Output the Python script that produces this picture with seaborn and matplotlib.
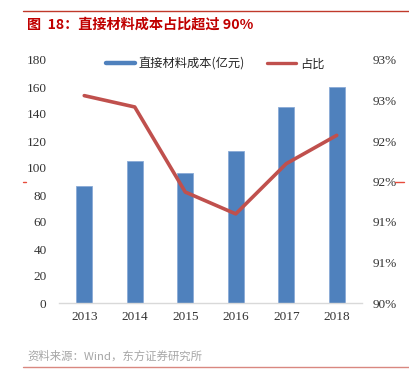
import matplotlib
matplotlib.use('Agg')
import matplotlib.pyplot as plt
from matplotlib.lines import Line2D
from matplotlib.ticker import FuncFormatter
import numpy as np
import seaborn as sns

years = ['2013', '2014', '2015', '2016', '2017', '2018']
cost = [87, 105, 96.5, 112.5, 145, 160]            # 直接材料成本(亿元)
ratio = [92.56, 92.42, 91.37, 91.10, 91.72, 92.07]  # 占比 (%)

bar_color = '#4F81BD'
line_color = '#C0504D'
red = '#C00000'

sns.set_theme(style='white')
plt.rcParams['font.family'] = ['Noto Sans CJK SC', 'DejaVu Sans']
serif = ['Liberation Serif', 'Noto Sans CJK SC']

W, H = 409, 379
fig = plt.figure(figsize=(W / 100, H / 100), dpi=100)
ax = fig.add_axes([59 / W, 76 / H, (362 - 59) / W, (303 - 60) / H])

sns.barplot(x=years, y=cost, color=bar_color, saturation=1, width=0.32,
            edgecolor='#8AAAD6', linewidth=0.6, ax=ax)
ax.set_ylim(0, 180)
ax.set_yticks(range(0, 181, 20))
ax.set_xlim(-0.5, 5.5)
ax.set_xlabel('')
ax.set_ylabel('')

ax2 = ax.twinx()
sns.lineplot(x=np.arange(len(years)), y=ratio, color=line_color, lw=2.6, ax=ax2)
ax2.set_ylim(90, 93)
ax2.set_yticks(np.arange(90, 93.01, 0.5))
ax2.yaxis.set_major_formatter(FuncFormatter(lambda v, p: '{}%'.format(int(np.floor(v + 0.5 + 1e-9)))))
ax2.set_xlim(-0.5, 5.5)

for a in (ax, ax2):
    for s in a.spines.values():
        s.set_visible(False)
    a.tick_params(length=0, labelsize=9.5, colors='#333333')
    for lab in a.get_xticklabels() + a.get_yticklabels():
        lab.set_family(serif)
ax.spines['bottom'].set_visible(True)
ax.spines['bottom'].set_color('#D9D9D9')
ax.spines['bottom'].set_linewidth(1)
ax.tick_params(axis='y', pad=9)
ax.tick_params(axis='x', pad=6)
ax2.tick_params(axis='y', pad=8)

handles = [Line2D([], [], color=bar_color, lw=3.2),
           Line2D([], [], color=line_color, lw=2.4)]
fig.legend(handles, ['直接材料成本(亿元)', '占比'], loc='center',
           bbox_to_anchor=(215 / W, 1 - 64 / H), ncol=2, frameon=False,
           fontsize=8.8, handlelength=2.4, handletextpad=0.3, columnspacing=1.8)

# header and footer
fig.add_artist(Line2D([23 / W, 1], [1 - 11 / H] * 2, color='#C0392B', lw=1))
fig.text(27 / W, 1 - 25 / H, '图  18：直接材料成本占比超过 90%', color=red,
         fontsize=10.2, fontweight='bold', va='center', ha='left')
fig.text(27 / W, 1 - 356 / H, '资料来源：Wind，东方证券研究所', color='#A6A6A6',
         fontsize=8.2, va='center', ha='left')
fig.add_artist(Line2D([23 / W, 1], [1 - 367 / H] * 2, color='#D98880', lw=1))
fig.add_artist(Line2D([23 / W, 26 / W], [1 - 182 / H] * 2, color='#E74C3C', lw=1))
fig.add_artist(Line2D([395 / W, 404 / W], [1 - 182 / H] * 2, color='#E74C3C', lw=1))

fig.savefig('out.png', dpi=100, facecolor='white')
